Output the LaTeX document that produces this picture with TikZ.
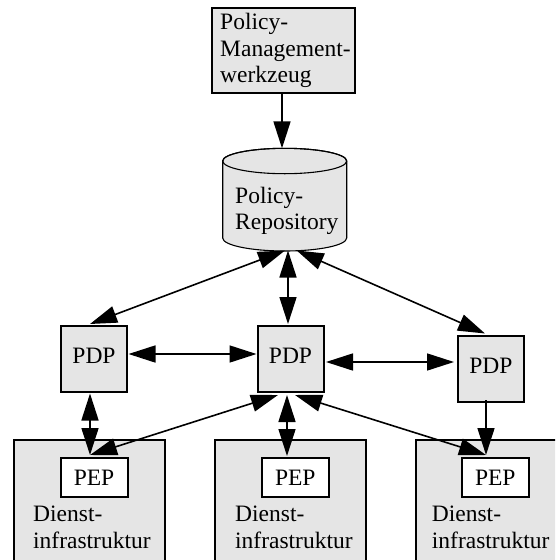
\documentclass[tikz,border=0pt]{standalone}
\usepackage{fontspec}
\setmainfont{Liberation Serif}
\usetikzlibrary{arrows.meta}
\definecolor{boxgray}{HTML}{E5E5E5}
\begin{document}
\begin{tikzpicture}[x=1pt,y=-1pt,
  txt/.style={font=\fontsize{23.5}{26.5}\selectfont, inner sep=0pt},
  graybox/.style={draw, line width=2pt, fill=boxgray, inner sep=0pt},
  pdpbox/.style={graybox, minimum width=66pt, minimum height=66pt, txt, text depth=5pt},
  pepbox/.style={draw, line width=2pt, fill=white, inner sep=0pt,
    minimum width=67pt, minimum height=38.4pt, txt},
  svcbox/.style={graybox, minimum width=151pt, minimum height=160pt},
  tip/.tip={Triangle[length=27pt,width=17pt]},
  link/.style={line width=1.6pt, tip-tip},
  feed/.style={line width=1.6pt, -tip},
]
\clip (0,0) rectangle (555,560);

% management tool
\node[graybox, minimum width=143.3pt, minimum height=85pt] (tool) at (283.4,50.8) {};
\node[txt, anchor=west, align=left] (toolText) at (220,50.5) {Policy-\\Management-\\werkzeug};

% policy repository (cylinder)
\path[fill=boxgray, draw, line width=1.1pt]
  (222.7,161) -- (222.7,238)
  arc[start angle=180, end angle=0, x radius=62, y radius=13]
  -- (346.7,161)
  arc[start angle=0, end angle=-180, x radius=62, y radius=12.7] -- cycle;
\draw[line width=1.1pt] (284.7,161) ellipse[x radius=62, y radius=12.7];
\node[txt, anchor=west, align=left] (repo) at (235,210.7) {Policy-\\Repository};
\coordinate (repoN)  at (282,148.3);
\coordinate (repoSL) at (285,250.5);
\coordinate (repoSC) at (288,250.5);
\coordinate (repoSR) at (296.7,250.5);

% decision points
\node[pdpbox] (pdpL) at (94,358.7)    {PDP};
\node[pdpbox] (pdpC) at (290.5,358.7) {PDP};
\node[pdpbox] (pdpR) at (490.9,368.7) {PDP};

% service infrastructures with their enforcement points
\node[svcbox] (svcL) at (89.5,520)  {};
\node[svcbox] (svcC) at (290.9,520) {};
\node[svcbox] (svcR) at (491.2,520) {};
\node[pepbox] (pepL) at (94,477.5)    {PEP};
\node[pepbox] (pepC) at (295.3,477.5) {PEP};
\node[pepbox] (pepR) at (495.3,477.5) {PEP};
\node[txt, anchor=west, align=left] (svcLText) at (33,527.5)    {Dienst-\\infrastruktur};
\node[txt, anchor=west, align=left] (svcCText) at (235,527.5)   {Dienst-\\infrastruktur};
\node[txt, anchor=west, align=left] (svcRText) at (431.7,527.5) {Dienst-\\infrastruktur};

% attachment points
\coordinate (pdpLN) at (90,324);
\coordinate (pdpCN) at (288,324);
\coordinate (pdpRN) at (485,333.5);
\coordinate (pdpLE) at (128.5,354);
\coordinate (pdpCW) at (256.5,354);
\coordinate (pdpCE) at (326,362);
\coordinate (pdpRW) at (454,362);
\coordinate (pdpLS) at (90,393.5);
\coordinate (pdpCSL) at (278,395);
\coordinate (pdpCSC) at (287,395);
\coordinate (pdpCSR) at (295,395);
\coordinate (pdpRS) at (486,400);
\coordinate (pepLN) at (90,455);
\coordinate (pepCN) at (287,456);
\coordinate (pepRN) at (486,455);

% connectors
\draw[feed] (tool.south -| repoN) -- (repoN);
\draw[link] (repoSL) -- (pdpLN);
\draw[link] (repoSC) -- (pdpCN);
\draw[link] (repoSR) -- (pdpRN);
\draw[link] (pdpLE) -- (pdpCW);
\draw[link] (pdpCE) -- (pdpRW);
\draw[link] (pdpLS) -- (pepLN);
\draw[link] (pdpCSL) -- (pepLN);
\draw[link] (pdpCSC) -- (pepCN);
\draw[link] (pdpCSR) -- (pepRN);
\draw[feed] (pdpRS) -- (pepRN);
\end{tikzpicture}
\end{document}
